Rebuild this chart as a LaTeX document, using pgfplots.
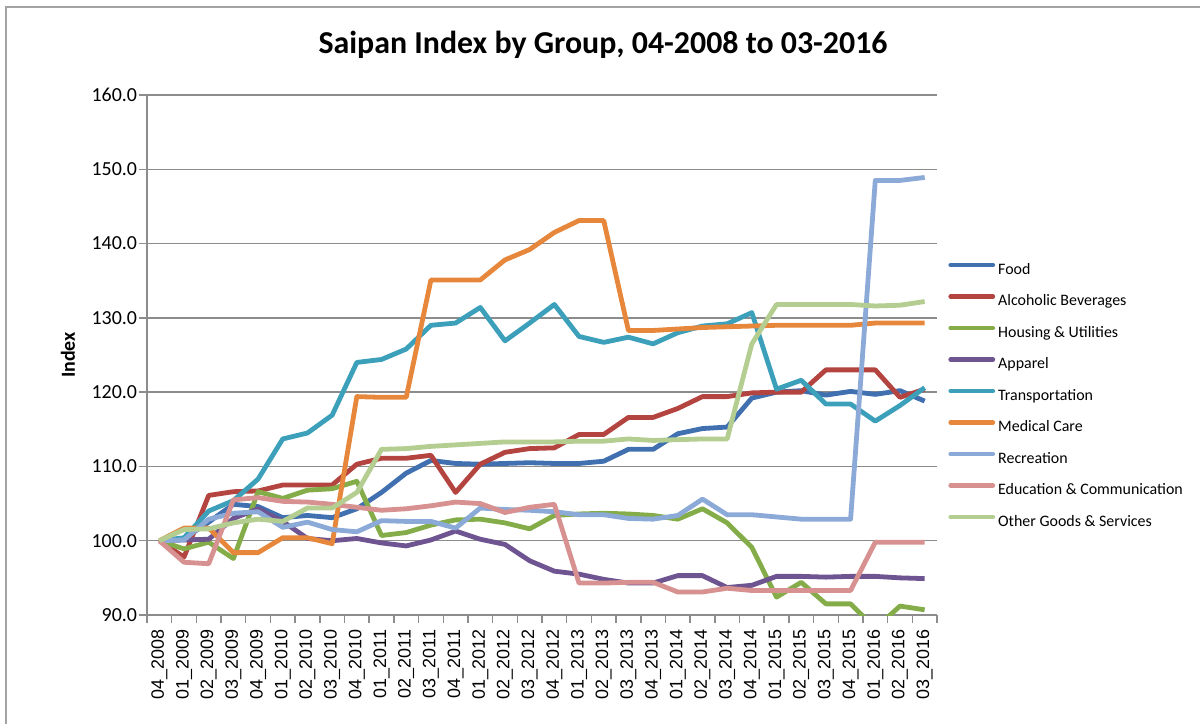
\documentclass[border=0pt]{standalone}
\usepackage{fontspec}
\setmainfont{Carlito}
\newfontfamily\arialfont{Liberation Sans}
\usepackage{pgfplots}
\pgfplotsset{compat=1.18}
\usepackage{pgfplotstable}

\definecolor{gridgray}{HTML}{8C8C8C}
\definecolor{cfood}{HTML}{4070B0}
\definecolor{calc}{HTML}{B44440}
\definecolor{chous}{HTML}{84AD4A}
\definecolor{capp}{HTML}{6E5490}
\definecolor{ctrans}{HTML}{3DA0BA}
\definecolor{cmed}{HTML}{E6873C}
\definecolor{crec}{HTML}{8CAAD7}
\definecolor{cedu}{HTML}{D79191}
\definecolor{coth}{HTML}{B4CD91}

% quarterly index values, 04_2008 = 100
\pgfplotstableread{
i  food  alc   hous  app   trans med   rec   edu   oth
0  100.0 100.0 100.0 100.0 100.0 100.0 100.0 100.0 100.0
1  100.3 97.8  98.9  100.1 100.4 101.7 100.1 97.1  101.5
2  102.5 106.1 99.8  100.2 104.0 101.7 102.9 96.9  101.6
3  104.9 106.6 97.6  103.0 105.4 98.4  103.7 105.5 102.4
4  104.6 106.7 106.6 104.3 108.3 98.4  103.9 105.8 102.9
5  103.1 107.5 105.7 102.6 113.7 100.4 101.8 105.3 102.6
6  103.4 107.5 106.8 100.3 114.5 100.4 102.5 105.2 104.4
7  103.1 107.5 107.0 100.0 116.9 99.6  101.5 104.9 104.4
8  104.3 110.3 108.0 100.3 124.0 119.4 101.2 104.5 106.5
9  106.5 111.1 100.7 99.7  124.4 119.3 102.7 104.1 112.3
10 109.1 111.1 101.1 99.3  125.8 119.3 102.6 104.3 112.4
11 110.8 111.5 102.1 100.1 129.0 135.1 102.6 104.7 112.7
12 110.4 106.5 102.8 101.3 129.3 135.1 101.7 105.2 112.9
13 110.3 110.3 102.9 100.2 131.4 135.1 104.4 105.0 113.1
14 110.4 111.9 102.4 99.5  126.9 137.8 104.2 103.8 113.3
15 110.5 112.4 101.6 97.3  129.3 139.2 104.1 104.5 113.3
16 110.4 112.5 103.4 95.9  131.8 141.5 103.9 104.9 113.3
17 110.4 114.3 103.6 95.5  127.5 143.1 103.5 94.3  113.4
18 110.7 114.3 103.7 94.8  126.7 143.1 103.5 94.3  113.4
19 112.3 116.6 103.6 94.3  127.4 128.3 103.0 94.4  113.7
20 112.3 116.6 103.4 94.3  126.5 128.3 102.9 94.4  113.5
21 114.4 117.8 102.9 95.3  128.0 128.5 103.4 93.1  113.6
22 115.1 119.4 104.3 95.3  128.9 128.7 105.6 93.1  113.7
23 115.3 119.4 102.4 93.7  129.2 128.8 103.5 93.6  113.7
24 119.2 119.9 99.1  94.0  130.7 128.9 103.5 93.3  126.5
25 120.0 120.0 92.4  95.2  120.4 129.0 103.2 93.3  131.8
26 120.2 120.0 94.4  95.2  121.6 129.0 102.9 93.3  131.8
27 119.6 123.0 91.5  95.1  118.4 129.0 102.9 93.3  131.8
28 120.1 123.0 91.5  95.2  118.4 129.0 102.9 93.3  131.8
29 119.7 123.0 88.2  95.2  116.1 129.3 148.5 99.8  131.6
30 120.2 119.3 91.2  95.0  118.2 129.3 148.5 99.8  131.7
31 118.8 120.4 90.7  94.9  120.6 129.3 148.9 99.8  132.2
}\cpidata

\begin{document}
\begin{tikzpicture}
\useasboundingbox (-73.5bp,-54.5bp) rectangle (526.5bp,307.5bp);
\draw[gridgray!80, line width=1bp] (-70.5bp,-60bp) -- (-70.5bp,304bp) -- (530bp,304bp);
\node[font=\bfseries\fontsize{16}{19}\selectfont] at (228bp,285bp) {Saipan Index by Group, 04-2008 to 03-2016};
\begin{axis}[
  scale only axis, width=395bp, height=260bp,
  xmin=-0.5, xmax=31.5, ymin=90, ymax=160,
  ytick={90,100,...,160},
  xtick={0,...,31},
  xticklabels={04\_2008,01\_2009,02\_2009,03\_2009,04\_2009,01\_2010,02\_2010,03\_2010,04\_2010,01\_2011,02\_2011,03\_2011,04\_2011,01\_2012,02\_2012,03\_2012,04\_2012,01\_2013,02\_2013,03\_2013,04\_2013,01\_2014,02\_2014,03\_2014,04\_2014,01\_2015,02\_2015,03\_2015,04\_2015,01\_2016,02\_2016,03\_2016},
  minor xtick={-0.5,0.5,...,31.5},
  tick align=outside,
  major tick length=3.8bp, minor tick length=3.8bp,
  major x tick style={draw=none},
  tick style={draw=gridgray, line width=0.75bp},
  axis x line*=bottom, axis y line*=left,
  axis line style={draw=gridgray, line width=0.75bp, -},
  ymajorgrids, major grid style={draw=gridgray, line width=0.75bp},
  /pgf/number format/assume math mode=true,
  y tick label style={font=\fontsize{10}{12}\selectfont, inner sep=1bp,
    /pgf/number format/.cd, fixed, fixed zerofill, precision=1, /tikz/.cd},
  x tick label style={rotate=90, anchor=east, font=\arialfont\fontsize{9}{10}\selectfont},
  ylabel={Index},
  ylabel style={font=\bfseries\fontsize{10}{12}\selectfont, at={(axis description cs:-0.1,0.5)}, anchor=center},
  legend cell align=left,
  legend style={draw=none, fill=none, at={(axis description cs:1.0139,0.421)}, anchor=west,
    inner sep=0pt, font=\fontsize{8}{9.6}\selectfont,
    nodes={inner sep=0pt, text height=5.8bp, text depth=1.6bp},
    row sep=8.35bp, column sep=1.5bp},
  legend image code/.code={\draw[#1, line cap=round] (0bp,2.5bp) -- (21bp,2.5bp);},
  every axis plot/.append style={line width=2.4bp, line join=round},
]
\addplot[cfood]  table[x=i,y=food]  {\cpidata}; \addlegendentry{Food}
\addplot[calc]   table[x=i,y=alc]   {\cpidata}; \addlegendentry{Alcoholic Beverages}
\addplot[chous]  table[x=i,y=hous]  {\cpidata}; \addlegendentry{Housing \& Utilities}
\addplot[capp]   table[x=i,y=app]   {\cpidata}; \addlegendentry{Apparel}
\addplot[ctrans] table[x=i,y=trans] {\cpidata}; \addlegendentry{Transportation}
\addplot[cmed]   table[x=i,y=med]   {\cpidata}; \addlegendentry{Medical Care}
\addplot[crec]   table[x=i,y=rec]   {\cpidata}; \addlegendentry{Recreation}
\addplot[cedu]   table[x=i,y=edu]   {\cpidata}; \addlegendentry{Education \& Communication}
\addplot[coth]   table[x=i,y=oth]   {\cpidata}; \addlegendentry{Other Goods \& Services}
\end{axis}
\end{tikzpicture}
\end{document}
